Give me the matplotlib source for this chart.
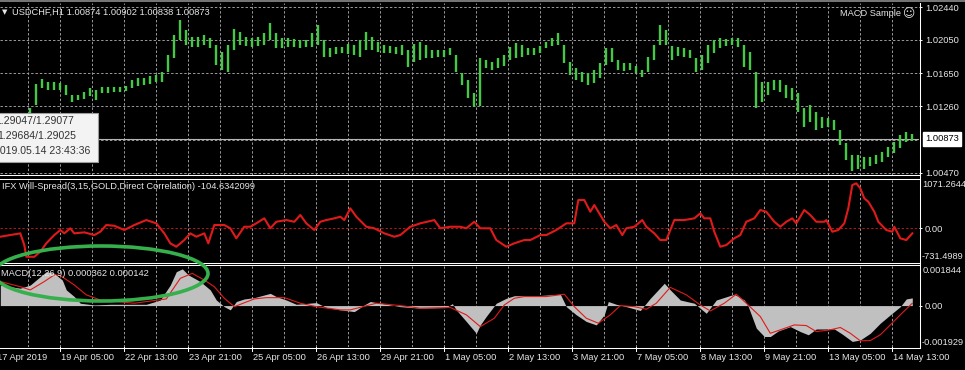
import numpy as np
import matplotlib
matplotlib.use("Agg")
import matplotlib.pyplot as plt
from matplotlib.lines import Line2D
from matplotlib.patches import Ellipse, Rectangle

plt.rcParams['font.family'] = ['Liberation Sans', 'DejaVu Sans']

# ---- values ----
# USDCHF H1 price, one high/low sample every 3 hourly bars
bar_step = 3
price_high = [
    1.0110, 1.0112, 1.0116, 1.0112, 1.0116, 1.0124, 1.0152, 1.0158, 1.0155, 1.0155,
    1.0154, 1.0151, 1.0139, 1.0139, 1.0143, 1.0148, 1.0145, 1.0149, 1.0149, 1.0149,
    1.0149, 1.0150, 1.0157, 1.0160, 1.0160, 1.0162, 1.0163, 1.0167, 1.0187, 1.0211,
    1.0229, 1.0217, 1.0208, 1.0208, 1.0211, 1.0207, 1.0199, 1.0190, 1.0199, 1.0218,
    1.0214, 1.0208, 1.0207, 1.0208, 1.0213, 1.0225, 1.0213, 1.0207, 1.0207, 1.0206,
    1.0205, 1.0205, 1.0213, 1.0223, 1.0205, 1.0195, 1.0196, 1.0196, 1.0200, 1.0199,
    1.0205, 1.0214, 1.0208, 1.0202, 1.0199, 1.0198, 1.0196, 1.0199, 1.0193, 1.0200,
    1.0202, 1.0199, 1.0193, 1.0193, 1.0193, 1.0195, 1.0187, 1.0166, 1.0157, 1.0142,
    1.0183, 1.0181, 1.0179, 1.0183, 1.0187, 1.0196, 1.0201, 1.0199, 1.0195, 1.0195,
    1.0198, 1.0202, 1.0207, 1.0213, 1.0199, 1.0179, 1.0171, 1.0167, 1.0166, 1.0169,
    1.0177, 1.0195, 1.0195, 1.0181, 1.0177, 1.0177, 1.0174, 1.0169, 1.0185, 1.0199,
    1.0223, 1.0217, 1.0198, 1.0196, 1.0195, 1.0193, 1.0183, 1.0187, 1.0199, 1.0205,
    1.0207, 1.0206, 1.0207, 1.0207, 1.0199, 1.0190, 1.0167, 1.0155, 1.0155, 1.0157,
    1.0157, 1.0151, 1.0148, 1.0142, 1.0124, 1.0127, 1.0119, 1.0113, 1.0112, 1.0110,
    1.0098, 1.0082, 1.0068, 1.0068, 1.0066, 1.0066, 1.0068, 1.0072, 1.0077, 1.0083,
    1.0092, 1.0095, 1.0093,
]
price_low = [
    1.0098, 1.0100, 1.0104, 1.0102, 1.0105, 1.0110, 1.0127, 1.0148, 1.0145, 1.0145,
    1.0145, 1.0139, 1.0131, 1.0133, 1.0135, 1.0138, 1.0133, 1.0142, 1.0142, 1.0143,
    1.0143, 1.0144, 1.0148, 1.0150, 1.0151, 1.0152, 1.0155, 1.0155, 1.0167, 1.0183,
    1.0205, 1.0199, 1.0196, 1.0196, 1.0199, 1.0195, 1.0175, 1.0169, 1.0167, 1.0193,
    1.0199, 1.0198, 1.0196, 1.0198, 1.0199, 1.0205, 1.0195, 1.0195, 1.0196, 1.0196,
    1.0195, 1.0196, 1.0196, 1.0199, 1.0185, 1.0185, 1.0188, 1.0189, 1.0188, 1.0187,
    1.0185, 1.0193, 1.0193, 1.0190, 1.0189, 1.0189, 1.0188, 1.0187, 1.0173, 1.0179,
    1.0181, 1.0183, 1.0183, 1.0185, 1.0185, 1.0187, 1.0167, 1.0151, 1.0136, 1.0125,
    1.0126, 1.0171, 1.0169, 1.0171, 1.0174, 1.0181, 1.0183, 1.0185, 1.0187, 1.0187,
    1.0189, 1.0195, 1.0198, 1.0199, 1.0177, 1.0163, 1.0157, 1.0155, 1.0151, 1.0154,
    1.0160, 1.0175, 1.0179, 1.0169, 1.0168, 1.0169, 1.0165, 1.0161, 1.0167, 1.0181,
    1.0199, 1.0199, 1.0181, 1.0186, 1.0185, 1.0183, 1.0167, 1.0169, 1.0177, 1.0189,
    1.0195, 1.0198, 1.0199, 1.0196, 1.0173, 1.0169, 1.0124, 1.0131, 1.0139, 1.0145,
    1.0143, 1.0136, 1.0133, 1.0119, 1.0101, 1.0107, 1.0098, 1.0100, 1.0101, 1.0098,
    1.0080, 1.0062, 1.0049, 1.0052, 1.0052, 1.0055, 1.0057, 1.0060, 1.0066, 1.0070,
    1.0076, 1.0083, 1.0085,
]
last_price = 1.00873
price_ticks = [1.02440, 1.02050, 1.01650, 1.01260, 1.00470]
price_tick_labels = ['1.02440', '1.02050', '1.01650', '1.01260', '1.00470']
price_grid = [1.02440, 1.02050, 1.01650, 1.01260, 1.00865, 1.00470]

# IFX Will-Spread indicator (bar index, value)
spread_bar = [0, 5, 10, 12, 13, 17, 20, 23, 27, 30,
              32, 35, 37, 42, 47, 50, 53, 57, 62, 67,
              73, 78, 82, 85, 88, 92, 95, 98, 102, 104,
              107, 112, 115, 118, 122, 125, 128, 132, 135, 138,
              143, 147, 150, 153, 157, 160, 163, 167, 170, 172,
              175, 178, 183, 187, 192, 197, 200, 205, 210, 217,
              220, 225, 230, 233, 237, 240, 245, 248, 253, 257,
              262, 265, 270, 273, 278, 283, 287, 289, 292, 295,
              297, 302, 305, 308, 311, 313, 317, 321, 323, 327,
              330, 333, 337, 342, 347, 350, 352, 355, 357, 360,
              363, 367, 370, 373, 377, 380, 383, 387, 390, 393,
              396, 398, 402, 405, 408, 412, 413, 416, 419, 422,
              424, 426, 428, 430, 432, 434, 437, 439, 443, 446,
              447, 450, 453, 456]
spread_val = [-191, -154, -116, -376, -637, -637, -526, -338, -154, -42,
              -116, -4, -116, -94, -154, -80, 69, 53, -42, 69,
              180, 107, -116, -338, -414, -265, -116, -191, -116, -338,
              69, 69, -4, -227, 31, 31, 107, 218, -4, 142,
              180, 142, 292, 107, -42, 142, 180, 218, 254, 180,
              441, 254, 31, -4, -116, -191, -154, 31, 107, 180,
              -4, 31, 31, -4, 142, -4, -4, -265, -414, -338,
              -265, -265, -154, -154, -42, 107, 107, 626, 626, 365,
              514, 142, -4, 69, -154, -4, 31, 180, 31, -116,
              -265, -265, 180, 180, 218, 329, 218, 218, -80, -414,
              -376, -227, -154, 142, 218, 403, 365, 142, 31, 142,
              218, 107, 403, 292, 142, 142, 180, -80, -42, 107,
              441, 959, 997, 886, 663, 588, 365, 142, -42, -80,
              31, -227, -265, -116]
spread_max, spread_min = 1071.2644, -731.4989

# MACD(12,26,9): main histogram and signal line (bar index, value)
macd_bar = [0, 5, 10, 15, 20, 23, 27, 31, 33, 37, 40, 47, 55, 63, 73, 80, 85, 88, 91, 94,
            100, 105, 108, 112, 115, 118, 122, 127, 135, 138, 143, 148, 158, 163, 170, 177,
            182, 185, 190, 200, 210, 223, 226, 228, 233, 238, 240, 243, 248, 253, 257, 268,
            280, 283, 288, 293, 298, 302, 304, 308, 313, 320, 325, 332, 335, 340, 347, 353,
            358, 367, 372, 374, 378, 382, 385, 389, 395, 400, 404, 408, 417, 421, 426, 430,
            435, 440, 445, 450, 453, 456]
macd_val = [0.00096, 0.00088, 0.00081, 0.00096, 0.00135, 0.00158, 0.00150, 0.00119, 0.00073,
            0.00042, 0.00011, 0.00003, 0.00006, 0.00006, 0.00006, 0.00026, 0.00096, 0.00158,
            0.00171, 0.00143, 0.00112, 0.00073, 0.00026, -0.00005, -0.00020, 0.00019, 0.00031,
            0.00037, 0.00057, 0.00042, 0.00026, 0.00006, 0.00014, -0.00009, -0.00020, -0.00028,
            0.00003, 0.00019, 0.00011, -0.00005, -0.00012, -0.00009, 0.00009, -0.00020,
            -0.00074, -0.00129, -0.00090, -0.00050, 0.00011, 0.00034, 0.00046, 0.00046,
            0.00053, -0.00005, -0.00043, -0.00074, -0.00090, -0.00043, 0.00019, 0.00006,
            -0.00005, -0.00023, 0.00034, 0.00104, 0.00073, 0.00026, 0.00011, -0.00036,
            0.00026, 0.00053, 0.00026, -0.00005, -0.00105, -0.00144, -0.00144, -0.00118,
            -0.00098, -0.00121, -0.00136, -0.00109, -0.00109, -0.00133, -0.00167, -0.00160,
            -0.00129, -0.00082, -0.00043, -0.00005, 0.00031, 0.00036]
signal_bar = [0, 10, 15, 22, 27, 30, 37, 43, 50, 67, 83, 90, 96, 102, 107, 112, 117, 127,
              133, 142, 150, 158, 170, 175, 188, 200, 210, 225, 233, 240, 247, 252, 257, 262,
              273, 282, 287, 293, 299, 305, 310, 317, 323, 328, 335, 343, 350, 355, 362, 368,
              373, 380, 385, 390, 397, 403, 408, 415, 420, 425, 430, 435, 440, 445, 450, 456]
signal_val = [0.00112, 0.00088, 0.00073, 0.00112, 0.00143, 0.00140, 0.00096, 0.00050,
              0.00026, 0.00011, 0.00031, 0.00127, 0.00150, 0.00119, 0.00088, 0.00034,
              -0.00005, 0.00031, 0.00037, 0.00037, 0.00011, -0.00005, -0.00020, -0.00020,
              0.00011, 0.0, -0.00012, -0.00009, -0.00043, -0.00098, -0.00059, 0.00003,
              0.00034, 0.00042, 0.00042, 0.00053, -0.00005, -0.00059, -0.00082, -0.00043,
              0.0, -0.00005, -0.00017, 0.00011, 0.00085, 0.00050, 0.00003, -0.00025,
              0.00011, 0.00053, 0.00011, -0.00051, -0.00129, -0.00113, -0.00090, -0.00093,
              -0.00121, -0.00113, -0.00102, -0.00129, -0.00164, -0.00163, -0.00136,
              -0.00090, -0.00043, 0.00011]
macd_max, macd_min = 0.001844, -0.001929

time_bars = [-2, 30, 62, 94, 126, 158, 190, 222, 254, 286, 318, 350, 382, 414, 446]
time_labels = ['17 Apr 2019', '19 Apr 05:00', '22 Apr 13:00', '23 Apr 21:00', '25 Apr 05:00',
               '26 Apr 13:00', '29 Apr 21:00', '1 May 05:00', '2 May 13:00', '3 May 21:00',
               '7 May 05:00', '8 May 13:00', '9 May 21:00', '13 May 05:00', '14 May 13:00']
grid_bars = np.arange(14, 447, 16)

tip_lines = ['1.29047/1.29077', '1.29684/1.29025', '2019.05.14 23:43:36']

# ---- drawing ----
W, H = 965, 370
fig = plt.figure(figsize=(W / 100, H / 100), dpi=100, facecolor='black')


def box(x0, y0, x1, y1):
    return [x0 / W, 1 - y1 / H, (x1 - x0) / W, (y1 - y0) / H]


TXT = '#e6e6e6'
GRID = '#9a9a9a'
FS = 6.7
DASH = (0, (2.5, 2))

ax1 = fig.add_axes(box(0, 3, 919, 175.5))
ax2 = fig.add_axes(box(0, 180, 919, 261))
ax3 = fig.add_axes(box(0, 266, 919, 347))
for ax in (ax1, ax2, ax3):
    ax.set_facecolor('black')
    ax.set_xlim(-0.15, 459.35)
    for s in ax.spines.values():
        s.set_visible(False)
    ax.set_xticks([])
    ax.yaxis.tick_right()
    ax.tick_params(axis='y', colors='white', labelcolor=TXT, labelsize=FS,
                   length=2.2, width=0.7, pad=2)
    for b in grid_bars:
        ax.axvline(b, color=GRID, lw=0.7, ls=DASH, zorder=0)

# main price pane
ax1.set_ylim(1.00437, 1.02488)
for p in price_grid:
    ax1.axhline(p, color=GRID, lw=0.7, ls=DASH, zorder=0)
ax1.axhline(last_price, color='#b4b4b4', lw=0.8, zorder=1)
xs = np.arange(len(price_high)) * bar_step
ax1.vlines(xs, price_low, price_high, color='#45c845', lw=1.7, zorder=2)
ax1.set_yticks(price_ticks)
ax1.set_yticklabels(price_tick_labels)
ax1.text(925 / 919, last_price, '1.00873', transform=ax1.get_yaxis_transform(),
         ha='left', va='center', fontsize=FS, color='black', clip_on=False,
         bbox=dict(boxstyle='square,pad=0.25', fc='white', ec='white'))

# spread pane
ax2.set_ylim(spread_min, spread_max)
ax2.axhline(0, color='#b01818', lw=0.7, ls=DASH, zorder=1)
ax2.plot(spread_bar, spread_val, color='#e01a1a', lw=1.5, zorder=2)
ax2.set_yticks([0])
ax2.set_yticklabels(['0.00'])
ax2.text(922.3 / 919, 1, '1071.2644', transform=ax2.transAxes, ha='left', va='top',
         fontsize=FS, color=TXT)
ax2.text(922 / 919, 0, '-731.4989', transform=ax2.transAxes, ha='left', va='bottom',
         fontsize=FS, color=TXT)

# MACD pane
ax3.set_ylim(macd_min, macd_max)
ax3.fill_between(macd_bar, 0, macd_val, color='#c0c0c0', lw=0, zorder=1)
ax3.plot(signal_bar, signal_val, color='#e01a1a', lw=0.8, zorder=2)
ax3.set_yticks([0])
ax3.set_yticklabels(['0.00'])
ax3.text(922.3 / 919, 1, '0.001844', transform=ax3.transAxes, ha='left', va='top',
         fontsize=FS, color=TXT)
ax3.text(922 / 919, 0, '-0.001929', transform=ax3.transAxes, ha='left', va='bottom',
         fontsize=FS, color=TXT)

# time axis
xt = ax3.get_xaxis_transform()
for b, lab in zip(time_bars, time_labels):
    ax3.plot([b, b], [0, -0.045], transform=xt, color='white', lw=0.7, clip_on=False)
    ax3.annotate(lab, xy=(b, 0), xycoords=xt, xytext=(0.4, -7.3),
                 textcoords='offset points', ha='left', va='center', color=TXT,
                 fontsize=FS, annotation_clip=False)


# pane borders
def hline(y, x0=0, x1=919.5, color='white', lw=0.75):
    fig.add_artist(Line2D([x0 / W, x1 / W], [1 - y / H, 1 - y / H], color=color, lw=lw))


for y in (175.5, 178.5, 262.5, 264.8, 347.5):
    hline(y)
fig.add_artist(Line2D([919.5 / W] * 2, [1 - 3 / H, 1 - 347.5 / H], color='white', lw=0.75))
hline(1, 0, 965, color='#8c8c8c', lw=1.2)

# captions
fig.text(2 / W, 1 - 12 / H, '▼', color=TXT, fontsize=5, family='DejaVu Sans', va='center')
fig.text(12 / W, 1 - 12 / H, 'USDCHF,H1 1.00874 1.00902 1.00838 1.00873',
         color=TXT, fontsize=FS, va='center')
fig.text(901 / W, 1 - 14 / H, 'MACD Sample', color=TXT, fontsize=FS, ha='right', va='center')
fig.text(908 / W, 1 - 14 / H, '☺', color=TXT, fontsize=8.5, family='DejaVu Sans',
         ha='center', va='center')
fig.text(2 / W, 1 - 186.5 / H, 'IFX Will-Spread(3,15,GOLD,Direct Correlation) -104.6342099',
         color=TXT, fontsize=FS, va='center')
fig.text(1 / W, 1 - 274 / H, 'MACD(12,26,9) 0.000362 0.000142',
         color=TXT, fontsize=FS, va='center')

# crosshair tooltip box
fig.add_artist(Rectangle((-2 / W, 1 - 161.7 / H), 100.3 / W, 49 / H, transform=fig.transFigure,
                         fc='#f3f3f3', ec='#9c9c9c', lw=0.8, zorder=10))
for line, x, y in zip(tip_lines, (-4.9, -2.6, -5.9), (120.7, 135.7, 150.7)):
    fig.text(x / W, 1 - y / H, line, color='#333333', fontsize=7.6, va='center', zorder=11)

# green marker ellipse drawn over the chart
fig.add_artist(Ellipse((101 / W, 1 - 273.5 / H), 214 / W, 55 / H, transform=fig.transFigure,
                       fill=False, ec='#35b04c', lw=2.6, zorder=12))

fig.savefig('out.png', dpi=100, facecolor='black')
